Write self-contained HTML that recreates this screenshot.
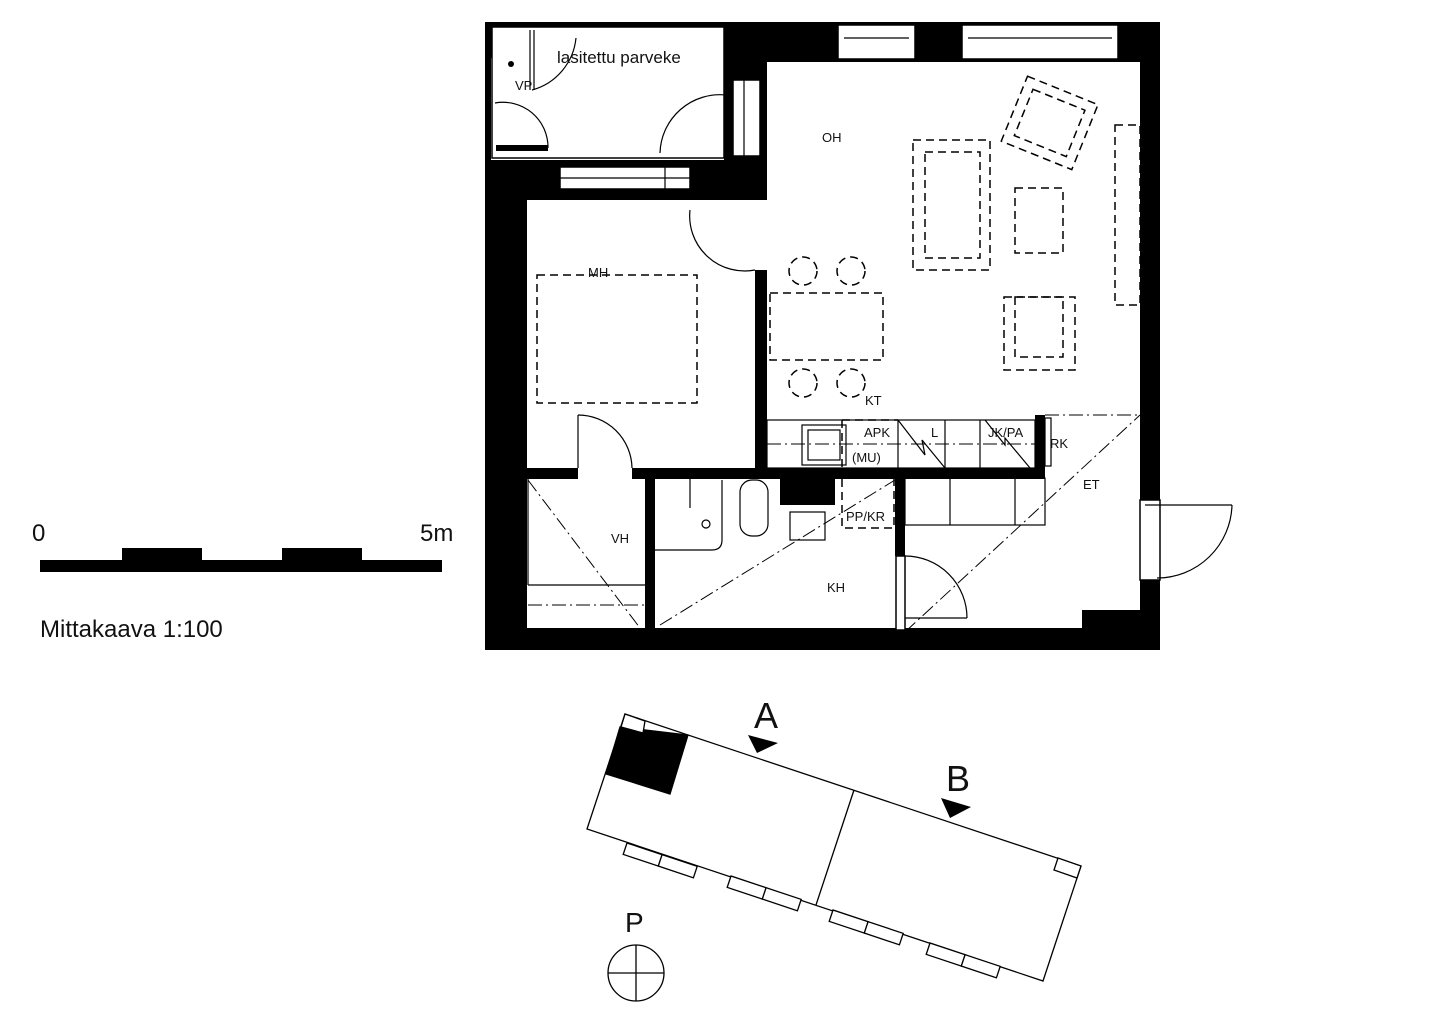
<!DOCTYPE html>
<html><head><meta charset="utf-8"><style>
html,body{margin:0;padding:0;background:#fff;}
svg{display:block;}
text{font-family:"Liberation Sans",sans-serif;fill:#111;}
</style></head><body>
<svg width="1440" height="1035" viewBox="0 0 1440 1035" xmlns="http://www.w3.org/2000/svg">
<rect width="1440" height="1035" fill="#fff"/>

<!-- Scale bar -->
<text x="32" y="541" font-size="24">0</text>
<text x="420" y="541" font-size="24">5m</text>
<rect x="40" y="560" width="402" height="12" fill="#000"/>
<rect x="122" y="548" width="80" height="12" fill="#000"/>
<rect x="282" y="548" width="80" height="12" fill="#000"/>
<text x="40" y="637" font-size="24">Mittakaava 1:100</text>

<!-- Floor plan walls -->
<g fill="#000">
  <rect x="485" y="22" width="675" height="5"/>
  <rect x="485" y="22" width="40" height="36"/>
  <rect x="485" y="22" width="6" height="140"/>
  <rect x="724" y="22" width="43" height="178"/>
  <rect x="760" y="22" width="400" height="40"/>
  <rect x="1140" y="22" width="20" height="628"/>
  <rect x="485" y="160" width="282" height="40"/>
  <rect x="485" y="160" width="42" height="490"/>
  <rect x="485" y="628" width="675" height="22"/>
  <rect x="1082" y="610" width="60" height="40"/>
  <rect x="755" y="270" width="12" height="200"/>
  <rect x="525" y="468" width="53" height="11"/>
  <rect x="632" y="468" width="413" height="11"/>
  <rect x="1035" y="415" width="10" height="64"/>
  <rect x="645" y="478" width="10" height="152"/>
  <rect x="895" y="478" width="10" height="78"/>
  <rect x="780" y="478" width="55" height="27"/>
</g>
<!-- windows -->
<g fill="#fff" stroke="#000" stroke-width="1.5">
  <rect x="838" y="25" width="77" height="34"/>
  <rect x="962" y="25" width="156" height="34"/>
  <rect x="733" y="80" width="27" height="76"/>
  <rect x="560" y="167" width="130" height="22"/>
  <rect x="492" y="27" width="232" height="131"/>
  <rect x="1140" y="500" width="20" height="80"/>
  <rect x="896" y="556" width="9" height="74"/>
</g>
<g stroke="#000" stroke-width="1.2" fill="none">
  <line x1="844" y1="38" x2="909" y2="38"/><line x1="968" y1="38" x2="1112" y2="38"/>
  <line x1="744" y1="80" x2="744" y2="156"/>
  <line x1="560" y1="178" x2="690" y2="178"/><line x1="665" y1="167" x2="665" y2="189"/>
  <line x1="530" y1="30" x2="530" y2="90"/><line x1="534" y1="30" x2="534" y2="90"/>
  <path d="M532 90 A60 60 0 0 0 576 38"/>
  <path d="M495 103 A45 45 0 0 1 548 148"/>
  <path d="M726 95 A60 60 0 0 0 660 153"/>
  <path d="M690 210 A55 55 0 0 0 755 270"/>
  <line x1="578" y1="415" x2="578" y2="468"/>
  <path d="M578 415 A54 54 0 0 1 632 468"/>
  <path d="M905 556 A62 62 0 0 1 967 618"/>
  <line x1="905" y1="618" x2="967" y2="618"/>
  <path d="M1145 505 L1232 505 M1232 505 A75 75 0 0 1 1157 578"/>
  <rect x="767" y="420" width="268" height="48"/>
  <rect x="802" y="425" width="44" height="40"/><rect x="808" y="430" width="32" height="30"/>
  <line x1="898" y1="420" x2="898" y2="468"/><line x1="945" y1="420" x2="945" y2="468"/>
  <line x1="980" y1="420" x2="980" y2="468"/>
  <path d="M898 420 L925 455 L922 440 L945 468"/>
  <path d="M985 420 L1005 445 L1005 438 L1030 468"/>
  <rect x="1045" y="418" width="6" height="48"/>
  <rect x="905" y="478" width="140" height="47"/>
  <line x1="950" y1="478" x2="950" y2="525"/><line x1="1015" y1="478" x2="1015" y2="525"/>
  <rect x="740" y="480" width="28" height="56" rx="12"/>
  <rect x="790" y="512" width="35" height="28"/>
  <line x1="690" y1="478" x2="690" y2="508"/>
  <path d="M722 480 L722 540 M655 550 L712 550 Q722 550 722 540"/>
  <circle cx="706" cy="524" r="4"/>
  <path d="M528 478 V585 M528 585 H645"/>
</g>
<g stroke="#000" stroke-width="1.5" fill="none" stroke-dasharray="8,5">
  <rect x="537" y="275" width="160" height="128"/>
  <rect x="770" y="293" width="113" height="67"/>
  <circle cx="803" cy="271" r="14"/><circle cx="851" cy="271" r="14"/>
  <circle cx="803" cy="383" r="14"/><circle cx="851" cy="383" r="14"/>
  <rect x="913" y="140" width="77" height="130"/><rect x="925" y="152" width="55" height="106"/>
  <rect x="1015" y="188" width="48" height="65"/>
  <rect x="1004" y="297" width="71" height="73"/><rect x="1015" y="297" width="48" height="60"/>
  <rect x="1115" y="125" width="25" height="180"/>
  <g transform="rotate(22 1050 122)"><rect x="1012" y="88" width="76" height="70"/><rect x="1022" y="98" width="56" height="50"/></g>
  <rect x="842" y="478" width="52" height="50"/>
  <line x1="842" y1="420" x2="898" y2="420"/><line x1="842" y1="420" x2="842" y2="468"/>
</g>
<g stroke="#000" stroke-width="1" fill="none" stroke-dasharray="14,4,2,4">
  <line x1="767" y1="444" x2="1035" y2="444"/>
  <line x1="528" y1="480" x2="640" y2="628"/>
  <line x1="660" y1="625" x2="895" y2="480"/>
  <line x1="905" y1="632" x2="1140" y2="415"/>
  <line x1="1045" y1="415" x2="1140" y2="415"/>
  <line x1="528" y1="605" x2="645" y2="605"/>
</g>
<g font-size="13">
  <text x="557" y="63" font-size="17">lasitettu parveke</text>
  <text x="515" y="90">VP</text>
  <text x="822" y="142">OH</text>
  <text x="588" y="277">MH</text>
  <text x="865" y="405">KT</text>
  <text x="864" y="437">APK</text>
  <text x="852" y="462">(MU)</text>
  <text x="931" y="437">L</text>
  <text x="988" y="437">JK/PA</text>
  <text x="1050" y="448">RK</text>
  <text x="1083" y="489">ET</text>
  <text x="611" y="543">VH</text>
  <text x="846" y="521">PP/KR</text>
  <text x="827" y="592">KH</text>
</g>
<circle cx="511" cy="64" r="3" fill="#000"/>
<rect x="496" y="145" width="52" height="6" fill="#000"/>

<!-- Site plan -->
<g stroke="#000" stroke-width="1.3" fill="#fff">
  <polygon points="625,714 1081,866 1043,981 587,829"/>
  <line x1="854" y1="790" x2="816" y2="905"/>
  <polygon points="620,727 688,735 670,794 606,774" fill="#000"/>
  <polygon points="625,714 645,721 643,733 621,727"/>
  <polygon points="1058,858 1081,866 1077,878 1054,870"/>
</g>
<g stroke="#000" stroke-width="1.3" fill="#fff">
  <g transform="translate(627,843) rotate(18.43)"><rect x="0" y="0" width="37" height="12"/><rect x="37" y="0" width="37" height="12"/></g>
  <g transform="translate(731,876) rotate(18.43)"><rect x="0" y="0" width="37" height="12"/><rect x="37" y="0" width="37" height="12"/></g>
  <g transform="translate(833,910) rotate(18.43)"><rect x="0" y="0" width="37" height="12"/><rect x="37" y="0" width="37" height="12"/></g>
  <g transform="translate(930,943) rotate(18.43)"><rect x="0" y="0" width="37" height="12"/><rect x="37" y="0" width="37" height="12"/></g>
</g>
<polygon points="748,735 778,743 757,753" fill="#000"/>
<polygon points="941,798 971,807 950,818" fill="#000"/>
<text x="754" y="728" font-size="36">A</text>
<text x="946" y="791" font-size="36">B</text>
<text x="625" y="932" font-size="28">P</text>
<circle cx="636" cy="973" r="28" fill="none" stroke="#000" stroke-width="1.3"/>
<line x1="608" y1="973" x2="664" y2="973" stroke="#000" stroke-width="1.3"/>
<line x1="636" y1="945" x2="636" y2="1001" stroke="#000" stroke-width="1.3"/>
</svg>
</body></html>
